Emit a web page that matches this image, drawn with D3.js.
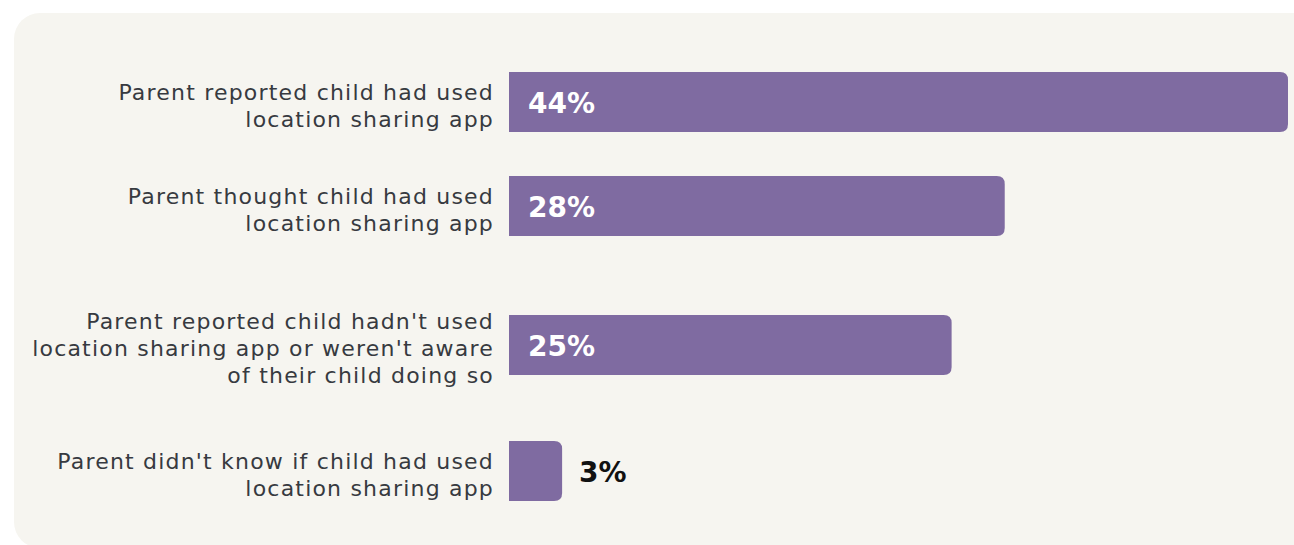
<!DOCTYPE html>
<html>
<head>
<meta charset="utf-8">
<script src="https://cdn.jsdelivr.net/npm/d3@7"></script>
<style>
  html, body { margin: 0; padding: 0; background: #ffffff; }
  svg { display: block; }
  text { font-family: "DejaVu Sans", "Open Sans", sans-serif; }
</style>
</head>
<body>
<svg id="chart" width="1294" height="545"></svg>
<script>
// Survey answers about children's use of location sharing apps
const categories = [
  "reported_used",
  "thought_used",
  "reported_not_used",
  "didnt_know"
];
const labelLines = [
  ["Parent reported child had used", "location sharing app"],
  ["Parent thought child had used", "location sharing app"],
  ["Parent reported child hadn't used", "location sharing app or weren't aware", "of their child doing so"],
  ["Parent didn't know if child had used", "location sharing app"]
];
const values = [44, 28, 25, 3];

const W = 1294, H = 545;
const svg = d3.select("#chart");

// Panel background
svg.append("rect")
  .attr("x", 14).attr("y", 13)
  .attr("width", W + 100).attr("height", H - 13 + 3)
  .attr("rx", 26).attr("ry", 26)
  .attr("fill", "#f6f5f0");

const x = d3.scaleLinear().domain([0, 44]).range([509, 1288]);
// Rows are spaced according to how many label lines each one carries
const y = d3.scaleOrdinal().domain(categories).range([72, 176, 315, 441]);
const barH = 60;
const r = 8;

const rows = categories.map((c, i) => ({ key: c, lines: labelLines[i], value: values[i] }));

function barPath(d) {
  const x0 = x(0), x1 = x(d.value), y0 = y(d.key), y1 = y0 + barH;
  const rr = Math.min(r, (x1 - x0));
  return `M${x0},${y0}H${x1 - rr}Q${x1},${y0} ${x1},${y0 + rr}V${y1 - rr}Q${x1},${y1} ${x1 - rr},${y1}H${x0}Z`;
}

const g = svg.append("g");

g.selectAll("path.bar").data(rows).join("path")
  .attr("class", "bar")
  .attr("d", barPath)
  .attr("fill", "#7f6ba1");

// Category labels, right aligned against the bars
const lh = 27;
g.selectAll("text.cat").data(rows).join("text")
  .attr("class", "cat")
  .attr("text-anchor", "end")
  .attr("font-size", 22)
  .attr("letter-spacing", 1.2)
  .attr("fill", "#373a40")
  .each(function(d) {
    const cy = y(d.key) + barH / 2;
    const first = cy - (d.lines.length - 1) * lh / 2 + 11;
    d3.select(this).selectAll("tspan").data(d.lines).join("tspan")
      .attr("x", 494)
      .attr("y", (t, j) => first + j * lh)
      .text(t => t);
  });

// Value labels: inside the bar when it is wide enough, otherwise after it
g.selectAll("text.val").data(rows).join("text")
  .attr("class", "val")
  .attr("font-size", 28)
  .attr("font-weight", 700)
  .attr("fill", d => (x(d.value) - x(0) > 100 ? "#ffffff" : "#111111"))
  .attr("x", d => (x(d.value) - x(0) > 100 ? x(0) + 19 : x(d.value) + 17))
  .attr("y", d => y(d.key) + barH / 2 + 11)
  .text(d => d.value + "%");
</script>
</body>
</html>
